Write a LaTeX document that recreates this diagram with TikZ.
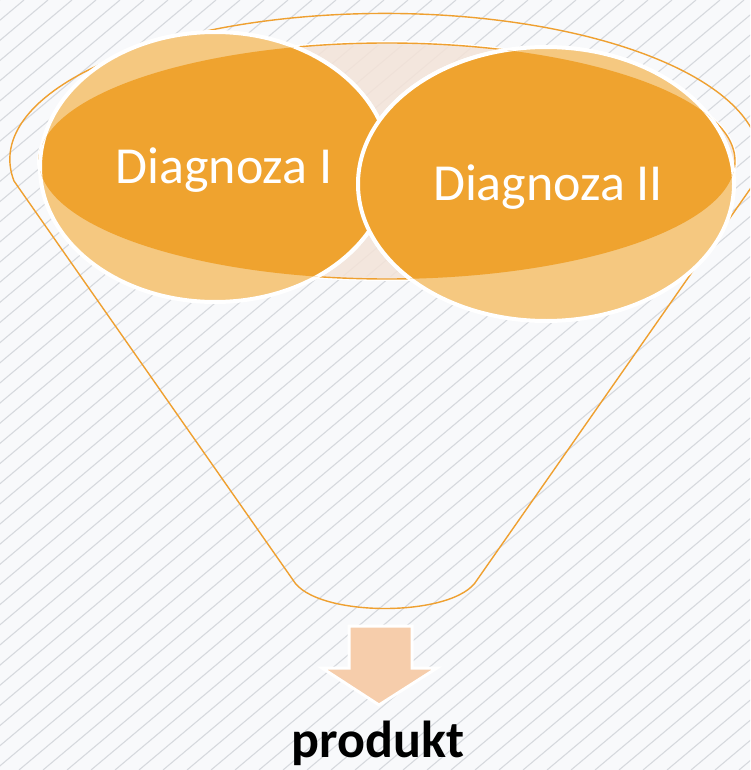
\documentclass[tikz,border=0pt]{standalone}
\usepackage{fontspec}
\setmainfont{Carlito}
\usepackage{tikz}
\usetikzlibrary{positioning}

\definecolor{bgwhite}{HTML}{F8F9FB}
\definecolor{stripegray}{HTML}{D6D9DE}
\definecolor{rimorange}{HTML}{EFA030}
\definecolor{darkorange}{HTML}{EFA32F}
\definecolor{lightorange}{HTML}{F5C880}
\definecolor{rimpeach}{HTML}{F3E3D8}
\definecolor{arrowpeach}{HTML}{F6CDAB}

\newcommand{\diagcircles}[1]{%
  \filldraw[circ, fill=#1] (215,167) ellipse [x radius=175pt, y radius=135pt];
  \filldraw[circ, fill=#1] (546,184) ellipse [x radius=188pt, y radius=137pt];
}

\begin{document}
\begin{tikzpicture}[x=1pt, y=-1pt,
    stripe/.style={draw=stripegray, line width=1.1pt},
    rim/.style={draw=rimorange, line width=1.4pt},
    circ/.style={draw=white, line width=4pt},
    label/.style={text=white, font=\fontsize{52}{60}\selectfont, anchor=base}]
        % Sfondo
        \useasboundingbox (0,0) rectangle (750,770);
        \clip (0,0) rectangle (750,770);
        \fill[bgwhite] (0,0) rectangle (750,770);
        \foreach \c in {0,24,...,1700}
          \draw[stripe] (\c,0) -- (\c-917,770);

        % Imbuto
        \draw[rim] (293,580) -- (14,181)
          arc[start angle=188.5, end angle=-8.5, x radius=375pt, y radius=146pt]
          -- (477,580) .. controls (455,618) and (315,618) .. (293,580) -- cycle;

        % Bordo interno
        \draw[white, line width=4pt] (387,161) ellipse [x radius=348pt, y radius=118pt];
        \filldraw[rim, fill=rimpeach, fill opacity=0.85] (387,161) ellipse [x radius=348pt, y radius=118pt];

        % Cerchi
        \diagcircles{lightorange}
        \begin{scope}
          \clip (387,161) ellipse [x radius=348pt, y radius=118pt];
          \diagcircles{darkorange}
        \end{scope}

        % Etichette
        \node[label] (diag1) at (224,183) {Diagnoza I};
        \node[label] (diag2) at (548,200) {Diagnoza II};

        % Freccia
        \filldraw[fill=arrowpeach, draw=white, line width=3pt, line join=miter]
          (349,626) -- (412,626) -- (412,668) -- (437,668) -- (379,705)
          -- (322,668) -- (349,668) -- cycle;

        % Risultato
        \node[anchor=base, font=\fontsize{52}{60}\selectfont\bfseries] (prod) at (378,757) {produkt};
\end{tikzpicture}
\end{document}
